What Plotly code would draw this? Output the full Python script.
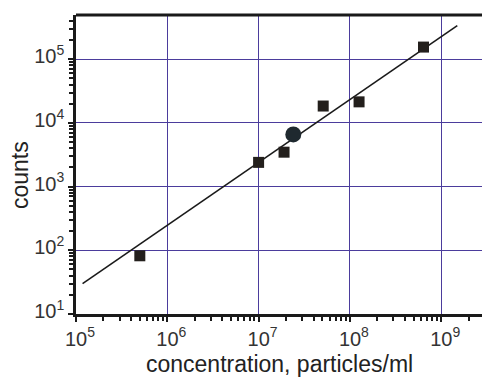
import plotly.graph_objects as go

# data
conc = [5e5, 1.0e7, 1.9e7, 5.1e7, 1.26e8, 6.4e8]
counts = [82, 2400, 3470, 18400, 21400, 155000]
highlight_conc = [2.4e7]
highlight_counts = [6600]
fit_conc = [1.18e5, 1.5e9]
fit_counts = [30, 3.36e5]

x_tickvals = [1e5, 1e6, 1e7, 1e8, 1e9]
x_ticktext = ["10<sup>5</sup>", "10<sup>6</sup>", "10<sup>7</sup>", "10<sup>8</sup>", "10<sup>9</sup>"]
y_tickvals = [1e1, 1e2, 1e3, 1e4, 1e5]
y_ticktext = ["10<sup>1</sup>", "10<sup>2</sup>", "10<sup>3</sup>", "10<sup>4</sup>", "10<sup>5</sup>"]

FONT = "Liberation Sans, Arial, sans-serif"
GRID = "#4b3c9c"

fig = go.Figure()
fig.add_trace(go.Scatter(x=fit_conc, y=fit_counts, mode="lines",
                         line=dict(color="#1a1a1a", width=1.6), showlegend=False))
fig.add_trace(go.Scatter(x=conc, y=counts, mode="markers",
                         marker=dict(symbol="square", size=11, color="#231f1c"), showlegend=False))
fig.add_trace(go.Scatter(x=highlight_conc, y=highlight_counts, mode="markers",
                         marker=dict(symbol="circle", size=16, color="#1f292f"), showlegend=False))

W, H = 482, 378
L, T, B, R = 76, 15, 64, 0
pw = W - L - R
ph = H - T - B

fig.update_layout(
    width=W, height=H,
    margin=dict(l=L, r=R, t=T, b=B, autoexpand=False),
    paper_bgcolor="white", plot_bgcolor="white",
    font=dict(family=FONT, color="#333333", size=20),
    xaxis=dict(type="log", range=[5, 5 + pw / 91.3], automargin=False,
               tickmode="array", tickvals=x_tickvals, ticktext=x_ticktext,
               ticks="outside", ticklen=5, tickwidth=1.5, tickcolor="#1a1a1a",
               showline=True, linecolor="#1a1a1a", linewidth=2.5,
               showgrid=True, gridcolor=GRID, gridwidth=1,
               zeroline=False,
               minor=dict(ticks="outside", ticklen=4, tickwidth=1.5, tickcolor="#1a1a1a",
                          dtick="D1", showgrid=False),
               tickfont=dict(size=20, color="#333333"),
               ticklabelshift=4),
    yaxis=dict(type="log", range=[1, 1 + ph / 63.7], automargin=False,
               tickmode="array", tickvals=y_tickvals, ticktext=y_ticktext,
               ticks="outside", ticklen=5, tickwidth=1.5, tickcolor="#1a1a1a",
               showline=True, linecolor="#1a1a1a", linewidth=2.5,
               showgrid=True, gridcolor=GRID, gridwidth=1,
               zeroline=False,
               minor=dict(ticks="outside", ticklen=4, tickwidth=1.5, tickcolor="#1a1a1a",
                          dtick="D1", showgrid=False),
               tickfont=dict(size=20, color="#333333"),
               ticklabelshift=-3),
    shapes=[dict(type="line", xref="paper", yref="paper", x0=0, x1=1, y0=1, y1=1,
                 line=dict(color="#1a1a1a", width=3))],
    annotations=[
        dict(text="concentration, particles/ml", xref="paper", yref="paper",
             x=0.5, y=-(364 - (T + ph)) / ph, xanchor="center", yanchor="middle",
             showarrow=False, font=dict(size=23, color="#222222", family=FONT)),
        dict(text="counts", xref="paper", yref="paper",
             x=(20 - L) / pw, y=((T + ph) - 175) / ph, xanchor="center", yanchor="middle",
             textangle=-90, showarrow=False, font=dict(size=23, color="#222222", family=FONT)),
    ],
)

fig.write_html("out.html", config={"displayModeBar": False},
               post_script="document.body.style.margin='0';document.body.style.padding='0';")
